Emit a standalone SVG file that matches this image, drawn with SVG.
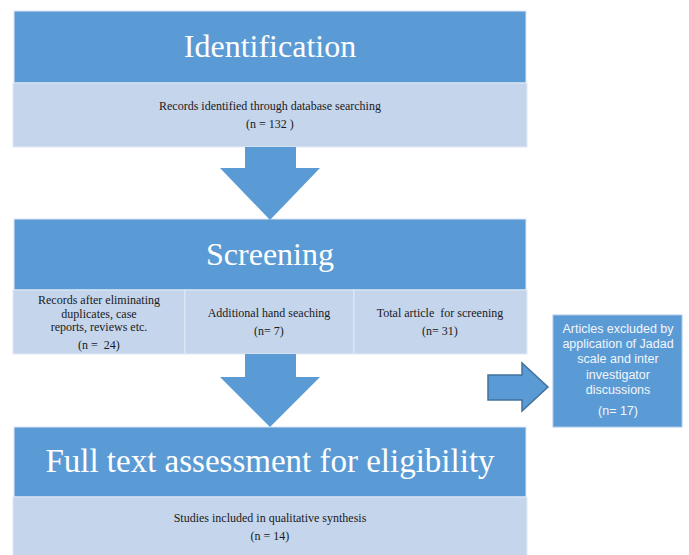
<svg xmlns="http://www.w3.org/2000/svg" width="689" height="555" viewBox="0 0 689 555">
<style>
.hdr{fill:#5B9BD5;stroke:#DDE8F4;stroke-width:1}
.band{fill:#C5D5EC;stroke:#E2EAF5;stroke-width:1}
.ttl{font-family:"Liberation Serif",serif;fill:#FFFFFF;text-anchor:middle}
.sm{font-family:"Liberation Serif",serif;font-size:12px;fill:#1A1A1A;text-anchor:middle}
.side{font-family:"Liberation Sans",sans-serif;font-size:12.5px;fill:#F2F6FB;text-anchor:middle}
.dn{fill:#5B9BD5}
.rt{fill:#5B9BD5;stroke:#41719C;stroke-width:1.5;stroke-linejoin:miter}
</style>
<rect width="689" height="555" fill="#FFFFFF"/>
<g id="identification">
<rect class="hdr" x="14" y="11" width="512" height="72"/>
<text class="ttl" x="270" y="57" font-size="32">Identification</text>
<rect class="band" x="13" y="83" width="514" height="64"/>
<text class="sm" x="270" y="110">Records identified through database searching</text>
<text class="sm" x="270" y="128">(n = 132 )</text>
</g>
<g id="screening">
<rect class="hdr" x="14" y="219" width="512" height="71"/>
<text class="ttl" x="270" y="265" font-size="32">Screening</text>
<rect class="band" x="13" y="290" width="172" height="64"/>
<rect class="band" x="185" y="290" width="169" height="64"/>
<rect class="band" x="354" y="290" width="173" height="64"/>
<text class="sm" x="99" y="304">Records after eliminating</text>
<text class="sm" x="99" y="317.5">duplicates, case</text>
<text class="sm" x="99" y="331">reports, reviews etc.</text>
<text class="sm" x="99" y="348.5" xml:space="preserve">(n =  24)</text>
<text class="sm" x="269" y="317">Additional hand seaching</text>
<text class="sm" x="269" y="335">(n= 7)</text>
<text class="sm" x="440" y="317" xml:space="preserve">Total article  for screening</text>
<text class="sm" x="440" y="335">(n= 31)</text>
</g>
<g id="excluded">
<rect x="553" y="315" width="129" height="112" fill="#5B9BD5" stroke="#A9C8E8" stroke-width="1"/>
<text class="side" x="618" y="333">Articles excluded by</text>
<text class="side" x="618" y="348">application of Jadad</text>
<text class="side" x="618" y="363">scale and inter</text>
<text class="side" x="618" y="379">investigator</text>
<text class="side" x="618" y="394">discussions</text>
<text class="side" x="618" y="415">(n= 17)</text>
</g>
<g id="fulltext">
<rect class="hdr" x="14" y="427" width="512" height="70"/>
<text class="ttl" x="270" y="472" font-size="33">Full text assessment for eligibility</text>
<rect class="band" x="13" y="497" width="514" height="60"/>
<text class="sm" x="270" y="522">Studies included in qualitative synthesis</text>
<text class="sm" x="270" y="540">(n = 14)</text>
</g>
<g id="connectors">
<polygon class="dn" points="245,147 296,147 296,168 320,168 270,220 220,168 245,168"/>
<polygon class="dn" points="245,354 296,354 296,377 320,377 270,427 220,377 245,377"/>
<polygon class="rt" points="488,375 522,375 522,363 548,387 522,411 522,400 488,400"/>
</g>
</svg>
